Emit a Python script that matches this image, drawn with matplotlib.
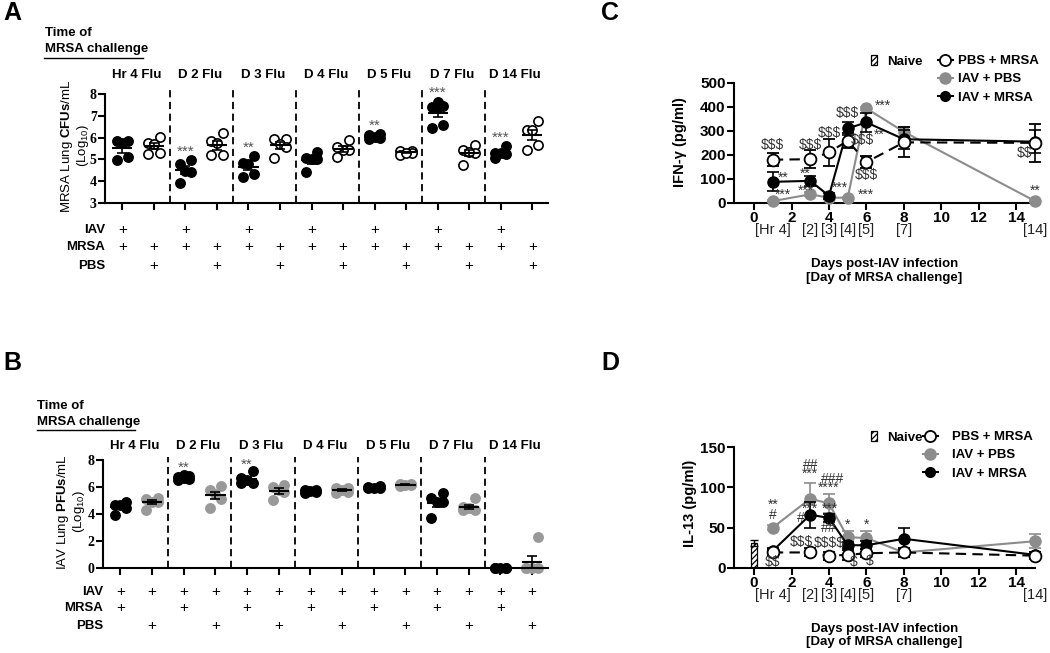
import numpy as np
import matplotlib.pyplot as plt
from matplotlib.patches import Patch
from matplotlib.lines import Line2D

plt.rcParams['font.family'] = ['Liberation Sans', 'DejaVu Sans']
plt.rcParams['mathtext.fontset'] = 'custom'
plt.rcParams['mathtext.rm'] = 'Liberation Sans'
plt.rcParams['mathtext.it'] = 'Liberation Sans:italic'
plt.rcParams['mathtext.bf'] = 'Liberation Sans:bold'
plt.rcParams['hatch.linewidth'] = 0.9

W, H = 1050, 653
GRAY = '#8c8c8c'
DOTGRAY = '#999999'
NOTE = '#333333'

# ---------------- panels A and B: log10 lung titers per mouse
flu_groups = ['Hr 4 Flu', 'D 2 Flu', 'D 3 Flu', 'D 4 Flu', 'D 5 Flu', 'D 7 Flu', 'D 14 Flu']

cfu_iav_mrsa = [[5.75, 5.85, 4.95, 5.1, 5.85], [4.95, 4.8, 4.4, 4.45, 3.9],
                [5.15, 4.85, 4.8, 4.35, 4.2], [5.35, 5.05, 5.0, 4.4, 5.0],
                [6.15, 6.1, 6.0, 5.95, 6.05], [7.4, 7.65, 7.35, 7.45, 6.45, 6.6],
                [5.6, 5.3, 5.3, 5.25, 5.05]]
cfu_pbs_mrsa = [[6.05, 5.75, 5.7, 5.25, 5.3], [6.2, 5.85, 5.75, 5.2, 5.2],
                [5.95, 5.95, 5.7, 5.55, 5.05], [5.9, 5.45, 5.45, 5.1, 5.55],
                [5.4, 5.4, 5.3, 5.2, 5.3], [5.45, 5.65, 5.3, 4.75, 5.35],
                [6.75, 6.35, 6.35, 5.45, 5.65]]
cfu_stars = ['', '***', '**', '', '**', '***', '***']

pfu_iav_mrsa = [[4.65, 4.9, 4.65, 3.9, 4.45], [6.9, 6.8, 6.7, 6.6, 6.5, 6.75],
                [7.15, 6.7, 6.5, 6.3, 6.3], [5.8, 5.75, 5.7, 5.6, 5.55],
                [6.05, 6.0, 5.95, 5.95, 5.9], [5.55, 5.15, 4.9, 4.85, 3.7],
                [0, 0, 0, 0, 0]]
pfu_iav_pbs = [[5.15, 5.1, 4.85, 4.3, 4.85], [6.05, 5.8, 5.45, 4.45, 5.1],
               [6.15, 6.0, 5.75, 5.6, 5.0], [5.95, 5.9, 5.75, 5.6, 5.55],
               [6.25, 6.2, 6.15, 6.15, 6.1], [5.15, 4.5, 4.4, 4.3, 4.25],
               [2.25, 0, 0, 0, 0]]
pfu_stars = ['', '**', '**', '', '', '', '']

row_names = ['IAV', 'MRSA', 'PBS']
a_plus = [[1, 0] * 7, [1, 1] * 7, [0, 1] * 7]
b_plus = [[1, 1] * 7, [1, 0] * 7, [0, 1] * 7]

# ---------------- panels C and D: cytokines over time
days = [1, 3, 4, 5, 6, 8, 15]
day_labels = ['[Hr 4]', '[2]', '[3]', '[4]', '[5]', '[7]', '[14]']

ifn_naive, ifn_naive_sem = 0, 0
ifn_pbs_mrsa = [180, 182, 210, 259, 170, 252, 250]
ifn_pbs_mrsa_sem = [28, 38, 58, 30, 25, 62, 78]
ifn_iav_pbs = [8, 36, 22, 22, 393, 296, 8]
ifn_iav_pbs_sem = [3, 8, 4, 4, 8, 20, 5]
ifn_iav_mrsa = [88, 92, 30, 310, 335, 265, 255]
ifn_iav_mrsa_sem = [40, 20, 12, 28, 38, 40, 48]
ifn_notes = [(1, 240, '$$$'), (3, 240, '$$$'), (4, 290, '$$$'), (5, 375, '$$$'),
             (5.8, 262, '$$$'), (6, 116, '$$$'), (14.45, 207, '$$'),
             (1.55, 105, '**'), (2.75, 120, '**'), (1.55, 33, '***'), (2.75, 50, '***'),
             (4.6, 62, '***'), (5.95, 36, '***'), (6.9, 402, '***'), (6.7, 282, '**'),
             (15, 50, '**')]

il13_naive, il13_naive_sem = 31, 4
il13_pbs_mrsa = [19, 19, 15, 16, 18, 19, 15]
il13_pbs_mrsa_sem = [4, 5, 5, 6, 5, 6, 4]
il13_iav_pbs = [50, 86, 80, 38, 37, 19, 33]
il13_iav_pbs_sem = [3, 20, 12, 8, 9, 4, 9]
il13_iav_mrsa = [21, 66, 62, 28, 28, 36, 16]
il13_iav_mrsa_sem = [3, 16, 5, 4, 5, 13, 4]
il13_notes = [(1, 78, '**'), (1, 66, '#'), (3, 128, '##'), (3, 117, '***'),
              (4.2, 111, '###'), (4.0, 99, '****'), (3.0, 74, '***'), (4.05, 74, '***'),
              (2.5, 62, '#'), (4.0, 50, '##'), (2.55, 32, '$$$'), (4.0, 31, '$$$$'),
              (1, 7, '$$'), (5.3, 7, '$'), (6.15, 8, '$'), (5, 54, '*'), (6, 54, '*')]


def box(left, top, right, bottom):
    return [left / W, 1 - bottom / H, (right - left) / W, (bottom - top) / H]


def spread(vals):
    # horizontal scatter of tied points, GraphPad style
    order = np.argsort(vals)
    pattern = [-0.18, 0.18, 0.0, -0.18, 0.18, 0.0]
    off = np.zeros(len(vals))
    for rank, idx in enumerate(order):
        off[idx] = pattern[rank % len(pattern)]
    return off


fig = plt.figure(figsize=(W / 100, H / 100), dpi=100)


def dot_panel(ax, first, second, styles, stars, star_pad, plus, row_y, group_y, sep_top):
    ax.set_xlim(-0.55, 13.5)
    for g in range(len(flu_groups)):
        for k, vals in enumerate([first[g], second[g]]):
            fc, ec = styles[k]
            x = 2 * g + k
            v = np.array(vals, dtype=float)
            ax.scatter(x + spread(v), v, s=44, facecolor=fc, edgecolor=ec,
                       linewidth=1.2, zorder=2, clip_on=False)
            m = v.mean()
            se = v.std(ddof=1) / np.sqrt(len(v))
            ax.hlines(m, x - 0.32, x + 0.32, color='black', lw=1.5, zorder=3)
            ax.errorbar(x, m, yerr=se, fmt='none', ecolor='black', elinewidth=1.2,
                        capsize=3.5, capthick=1.2, zorder=3)
        if stars[g]:
            ax.text(2 * g, max(first[g]) + star_pad, stars[g], ha='center', va='center',
                    color='#555555', fontsize=11)
        ax.text(2 * g + 0.45, group_y, flu_groups[g], transform=ax.get_xaxis_transform(),
                ha='center', va='center', fontsize=9.5, fontweight='bold')
        if g > 0:
            ax.axvline(2 * g - 0.5, ymin=0, ymax=sep_top, color='black', lw=1.3,
                       ls=(0, (4, 2.5)), clip_on=False)
    for r, name in enumerate(row_names):
        ax.text(0.0, row_y[r], name, transform=ax.transAxes, ha='right', va='center',
                fontsize=9.5, fontweight='bold')
        for i, on in enumerate(plus[r]):
            if on:
                ax.text(i, row_y[r], '+', transform=ax.get_xaxis_transform(),
                        ha='center', va='center', fontsize=11)
    for s in ['top', 'right']:
        ax.spines[s].set_visible(False)
    for s in ['left', 'bottom']:
        ax.spines[s].set_linewidth(1.5)
    ax.set_xticks(range(14))
    ax.set_xticklabels([])
    ax.tick_params(axis='both', direction='out', length=5, width=1.5, pad=1)
    for lbl in ax.get_yticklabels():
        lbl.set_fontfamily('Liberation Serif')
        lbl.set_fontweight('bold')
        lbl.set_fontsize(10)


# ---------------- panel A
ax_a = fig.add_axes(box(105, 94, 548, 203))
ax_a.set_ylim(3, 8)
ax_a.set_yticks([3, 4, 5, 6, 7, 8])
dot_panel(ax_a, cfu_iav_mrsa, cfu_pbs_mrsa, [('black', 'black'), ('white', 'black')],
          cfu_stars, 0.4, a_plus,
          [(203 - 230) / 109, (203 - 247) / 109, (203 - 266) / 109],
          1 + (94 - 75) / 109, 1.065)
fig.text(75 / W, 1 - 146 / H, 'MRSA Lung $\\mathbf{CFUs}$/mL\n(Log$_{10}$)', rotation=90,
         ha='center', va='center', fontsize=9.5, linespacing=0.95)
fig.text(45 / W, 1 - 33 / H, 'Time of', va='center', fontsize=9.5, fontweight='bold')
fig.text(45 / W, 1 - 49 / H, 'MRSA challenge', va='center', fontsize=9.5, fontweight='bold')
fig.add_artist(Line2D([44 / W, 143 / W], [1 - 58 / H] * 2, color='black', lw=1))

# ---------------- panel B
ax_b = fig.add_axes(box(103, 460, 548, 567.7))
ax_b.set_ylim(0, 8)
ax_b.set_yticks([0, 2, 4, 6, 8])
dot_panel(ax_b, pfu_iav_mrsa, pfu_iav_pbs, [('black', 'black'), (DOTGRAY, DOTGRAY)],
          pfu_stars, 0.5, b_plus,
          [(567.7 - 592) / 107.7, (567.7 - 608) / 107.7, (567.7 - 626) / 107.7],
          1 + (460 - 446) / 107.7, 1.03)
fig.text(71 / W, 1 - 512 / H, 'IAV Lung $\\mathbf{PFUs}$/mL\n(Log$_{10}$)', rotation=90,
         ha='center', va='center', fontsize=9.5, linespacing=0.95)
fig.text(37 / W, 1 - 406 / H, 'Time of', va='center', fontsize=9.5, fontweight='bold')
fig.text(37 / W, 1 - 422 / H, 'MRSA challenge', va='center', fontsize=9.5, fontweight='bold')
fig.add_artist(Line2D([37 / W, 135 / W], [1 - 430 / H] * 2, color='black', lw=1))


def time_panel(ax, naive, naive_sem, pbs_mrsa, pbs_mrsa_sem, iav_pbs, iav_pbs_sem,
               iav_mrsa, iav_mrsa_sem, notes):
    ax.set_xlim(-1.07, 15)
    ax.bar([0], [naive], width=0.36, yerr=[naive_sem], color='white', edgecolor='black',
           hatch='//////', linewidth=0.9, capsize=3,
           error_kw=dict(elinewidth=1, capthick=1), zorder=2)
    ax.errorbar(days, iav_pbs, yerr=iav_pbs_sem, color=GRAY, marker='o', ms=8, lw=1.5,
                elinewidth=1.2, capsize=4.5, capthick=1.2, zorder=3, clip_on=False)
    ax.errorbar(days, iav_mrsa, yerr=iav_mrsa_sem, color='black', marker='o', ms=8, lw=1.5,
                elinewidth=1.2, capsize=4.5, capthick=1.2, zorder=4, clip_on=False)
    ax.errorbar(days, pbs_mrsa, yerr=pbs_mrsa_sem, color='black', marker='o', ms=8.5,
                mfc='white', mec='black', mew=1.3, lw=1.5, ls=(0, (5, 3)),
                elinewidth=1.2, capsize=4.5, capthick=1.2, zorder=5, clip_on=False)
    for x, y, s in notes:
        ax.text(x, y, s, ha='center', va='center', fontsize=10, color=NOTE,
                parse_math=False, zorder=6)
    for d, lab in zip(days, day_labels):
        ax.text(d, -27 / 120.3, lab, transform=ax.get_xaxis_transform(), ha='center',
                va='center', fontsize=10.5, color='#222222')
    for s in ['top', 'right']:
        ax.spines[s].set_visible(False)
    for s in ['left', 'bottom']:
        ax.spines[s].set_linewidth(1.5)
    ax.set_xticks(range(0, 15, 2))
    ax.tick_params(axis='both', direction='out', length=5, width=1.5, labelsize=11, pad=1)
    for lbl in ax.get_xticklabels() + ax.get_yticklabels():
        lbl.set_fontweight('bold')
    ax.text(0.5, -68 / 120.3, 'Days post-IAV infection\n[Day of MRSA challenge]',
            transform=ax.transAxes, ha='center', va='center', fontsize=9.5,
            fontweight='bold', linespacing=1.15)


def legends(ax, naive_left, naive_top, line_left, line_top, textpad):
    naive_leg = ax.legend([Patch(facecolor='white', edgecolor='black', hatch='//////', lw=0.9)],
                          ['Naive'], loc='upper left', frameon=False,
                          bbox_to_anchor=(naive_left / W, 1 - naive_top / H),
                          bbox_transform=fig.transFigure, handlelength=0.45, handleheight=0.8,
                          handletextpad=0.8, borderpad=0, borderaxespad=0,
                          prop=dict(weight='bold', size=9.5))
    ax.add_artist(naive_leg)
    handles = [Line2D([], [], color='black', marker='o', ms=8, mfc='white', mec='black',
                      mew=1.3, lw=1.5),
               Line2D([], [], color=GRAY, marker='o', ms=8, lw=1.5),
               Line2D([], [], color='black', marker='o', ms=7, lw=1.5)]
    ax.legend(handles, ['PBS + MRSA', 'IAV + PBS', 'IAV + MRSA'], loc='upper left',
              frameon=False, bbox_to_anchor=(line_left / W, 1 - line_top / H),
              bbox_transform=fig.transFigure, handlelength=1.1, handletextpad=textpad,
              labelspacing=0.45, borderpad=0, borderaxespad=0,
              prop=dict(weight='bold', size=9.5))


# ---------------- panel C
ax_c = fig.add_axes(box(734, 82.7, 1035, 203))
ax_c.set_ylim(0, 500)
ax_c.set_yticks(range(0, 501, 100))
time_panel(ax_c, ifn_naive, ifn_naive_sem, ifn_pbs_mrsa, ifn_pbs_mrsa_sem, ifn_iav_pbs,
           ifn_iav_pbs_sem, ifn_iav_mrsa, ifn_iav_mrsa_sem, ifn_notes)
legends(ax_c, 871, 55, 938, 55, 0.45)
fig.text(680 / W, 1 - 142 / H, 'IFN-γ (pg/ml)', rotation=90, ha='center', va='center',
         fontsize=10.5, fontweight='bold')

# ---------------- panel D
ax_d = fig.add_axes(box(734, 447.3, 1035, 567.7))
ax_d.set_ylim(0, 150)
ax_d.set_yticks([0, 50, 100, 150])
time_panel(ax_d, il13_naive, il13_naive_sem, il13_pbs_mrsa, il13_pbs_mrsa_sem, il13_iav_pbs,
           il13_iav_pbs_sem, il13_iav_mrsa, il13_iav_mrsa_sem, il13_notes)
legends(ax_d, 871, 431, 923, 431, 1.1)
fig.text(690 / W, 1 - 503 / H, 'IL-13 (pg/ml)', rotation=90, ha='center', va='center',
         fontsize=10.5, fontweight='bold')

# panel letters
for letter, x, y in [('A', 12, 13), ('B', 12, 363), ('C', 610, 13), ('D', 610, 363)]:
    fig.text(x / W, 1 - y / H, letter, ha='center', va='center', fontsize=18,
             fontweight='bold')

fig.savefig('out.png', dpi=100)
